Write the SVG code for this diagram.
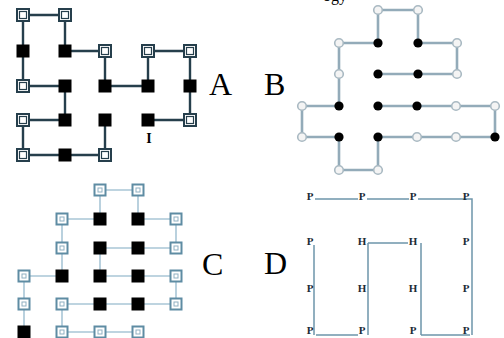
<svg xmlns="http://www.w3.org/2000/svg" width="504" height="338" viewBox="0 0 504 338">
<style>
.la{fill:none;stroke:#263f4c;stroke-width:2.4;stroke-linejoin:miter}
.lb{fill:none;stroke:#93abb9;stroke-width:2.6}
.lc{fill:none;stroke:#a9c6d6;stroke-width:1.6}
.ld{fill:none;stroke:#6e95aa;stroke-width:1.5}
.fa{fill:#000}
.oa{fill:#fff;stroke:#263f4c;stroke-width:2}
.ia{fill:none;stroke:#263f4c;stroke-width:1.2}
.fb{fill:#000}
.ob{fill:#f4f4f4;stroke:#a9b9c2;stroke-width:1.6}
.oc{fill:#fff;stroke:#5e8ca3;stroke-width:2}
.ic{fill:none;stroke:#8fb0c2;stroke-width:1}
.big{font-family:"Liberation Serif",serif;font-size:32px;fill:#000}
.dl{font-family:"Liberation Serif",serif;font-size:11px;font-weight:bold;fill:#1c2c36;text-anchor:middle}
</style>
<defs>
<g id="sqA"><rect class="oa" x="-6" y="-6" width="12" height="12"/><rect class="ia" x="-3.5" y="-3.5" width="7" height="7"/></g>
<rect id="fsA" class="fa" x="-6.5" y="-6.5" width="13" height="13"/>
<circle id="fcB" class="fb" r="4.6"/>
<circle id="ocB" class="ob" r="4.3"/>
<g id="sqC"><rect class="oc" x="-5.5" y="-5.5" width="11" height="11"/><rect class="ic" x="-2" y="-2" width="4" height="4"/></g>
<rect id="fsC" class="fa" x="-6.5" y="-6.5" width="13" height="13"/>
</defs>
<rect width="504" height="338" fill="#fff"/>
<text x="323" y="1" font-family="Liberation Serif,serif" font-size="16" fill="#000">ogy</text>

<g id="connectors">
<polyline class="la" points="148,120 190,120 190,86 190,51 148,51 148,86 105,86 105,51 65,51 65,15 23,15 23,51 23,86 65,86 65,120 23,120 23,155 65,155 105,155 105,120"/>
<polyline class="lb" points="378,74 418,74 457,74 457,43 418,43 418,10 378,10 378,43 339,43 339,74 339,106 302,106 302,137 339,137 339,170 378,170 378,137 417,137 456,137 495,137 495,106 456,106 417,106 378,106"/>
<polyline class="lc" points="24,332 24,304 24,276 62,276 62,248 62,219 100,219 100,190 138,190 138,219 176,219 176,248 138,248 100,248 100,276 138,276 176,276 176,304 138,304 100,304 62,304 62,332 100,332 138,332"/>
<path class="ld" d="M315,199H358M367,199H409M418,199H472V335M421,335H470M421,243V335M368,243H408M368,243V335M316,335H358M314,245V335"/>
</g>

<g id="panelA">
<use href="#fsA" x="148" y="120"/><use href="#sqA" x="190" y="120"/><use href="#fsA" x="190" y="86"/>
<use href="#sqA" x="190" y="51"/><use href="#sqA" x="148" y="51"/><use href="#fsA" x="148" y="86"/>
<use href="#fsA" x="105" y="86"/><use href="#sqA" x="105" y="51"/><use href="#fsA" x="65" y="51"/>
<use href="#sqA" x="65" y="15"/><use href="#sqA" x="23" y="15"/><use href="#fsA" x="23" y="51"/>
<use href="#sqA" x="23" y="86"/><use href="#fsA" x="65" y="86"/><use href="#fsA" x="65" y="120"/>
<use href="#sqA" x="23" y="120"/><use href="#sqA" x="23" y="155"/><use href="#fsA" x="65" y="155"/>
<use href="#sqA" x="105" y="155"/><use href="#fsA" x="105" y="120"/>
<text x="149" y="143" font-family="Liberation Serif,serif" font-size="14" font-weight="bold" text-anchor="middle">I</text>
<text class="big" x="209" y="95">A</text>
</g>

<g id="panelB">
<use href="#fcB" x="378" y="74"/><use href="#fcB" x="418" y="74"/><use href="#ocB" x="457" y="74"/>
<use href="#ocB" x="457" y="43"/><use href="#fcB" x="418" y="43"/><use href="#ocB" x="418" y="10"/>
<use href="#ocB" x="378" y="10"/><use href="#fcB" x="378" y="43"/><use href="#ocB" x="339" y="43"/>
<use href="#ocB" x="339" y="74"/><use href="#fcB" x="339" y="106"/><use href="#ocB" x="302" y="106"/>
<use href="#ocB" x="302" y="137"/><use href="#fcB" x="339" y="137"/><use href="#ocB" x="339" y="170"/>
<use href="#ocB" x="378" y="170"/><use href="#fcB" x="378" y="137"/><use href="#ocB" x="417" y="137"/>
<use href="#ocB" x="456" y="137"/><use href="#fcB" x="495" y="137"/><use href="#ocB" x="495" y="106"/>
<use href="#ocB" x="456" y="106"/><use href="#fcB" x="417" y="106"/><use href="#fcB" x="378" y="106"/>
<text class="big" x="264" y="95">B</text>
</g>

<g id="panelC">
<use href="#sqC" x="100" y="190"/><use href="#sqC" x="138" y="190"/>
<use href="#sqC" x="62" y="219"/><use href="#fsC" x="100" y="219"/><use href="#fsC" x="138" y="219"/><use href="#sqC" x="176" y="219"/>
<use href="#sqC" x="62" y="248"/><use href="#fsC" x="100" y="248"/><use href="#fsC" x="138" y="248"/><use href="#sqC" x="176" y="248"/>
<use href="#sqC" x="24" y="276"/><use href="#fsC" x="62" y="276"/><use href="#fsC" x="100" y="276"/><use href="#fsC" x="138" y="276"/><use href="#sqC" x="176" y="276"/>
<use href="#sqC" x="24" y="304"/><use href="#sqC" x="62" y="304"/><use href="#fsC" x="100" y="304"/><use href="#fsC" x="138" y="304"/><use href="#sqC" x="176" y="304"/>
<use href="#fsC" x="24" y="332"/><use href="#sqC" x="62" y="332"/><use href="#sqC" x="100" y="332"/><use href="#sqC" x="138" y="332"/>
<text class="big" x="202" y="275">C</text>
</g>

<g id="panelD">
<text class="dl" x="310" y="200">P</text><text class="dl" x="362" y="200">P</text><text class="dl" x="413" y="200">P</text><text class="dl" x="466" y="200">P</text>
<text class="dl" x="310" y="245">P</text><text class="dl" x="362" y="245">H</text><text class="dl" x="413" y="245">H</text><text class="dl" x="466" y="245">P</text>
<text class="dl" x="310" y="292">P</text><text class="dl" x="362" y="292">H</text><text class="dl" x="413" y="292">H</text><text class="dl" x="466" y="292">P</text>
<text class="dl" x="310" y="334">P</text><text class="dl" x="362" y="334">P</text><text class="dl" x="413" y="334">P</text><text class="dl" x="466" y="334">P</text>
<text class="big" x="264" y="274">D</text>
</g>
</svg>
